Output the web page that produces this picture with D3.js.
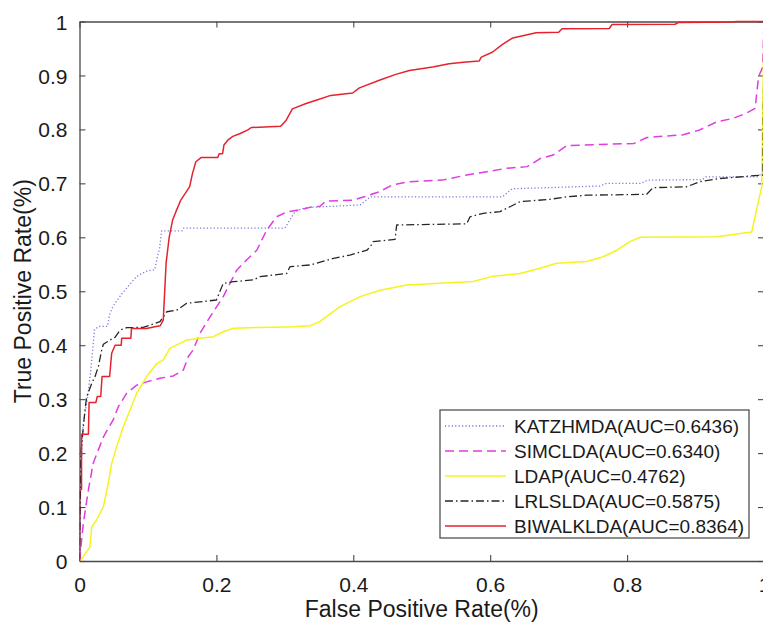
<!DOCTYPE html>
<html><head><meta charset="utf-8">
<script src="https://cdn.jsdelivr.net/npm/d3@7"></script>
<style>
html,body{margin:0;padding:0;background:#fff;}
svg{display:block;font-family:"Liberation Sans",Arial,sans-serif;}
</style></head>
<body><svg id="c" width="763" height="628"></svg>
<script>
// ---- data (FPR, TPR) ----
const xTicks = [0, 0.2, 0.4, 0.6, 0.8, 1];
const yTicks = [0, 0.1, 0.2, 0.3, 0.4, 0.5, 0.6, 0.7, 0.8, 0.9, 1];
const seriesNames = ["KATZHMDA(AUC=0.6436)", "SIMCLDA(AUC=0.6340)", "LDAP(AUC=0.4762)", "LRLSLDA(AUC=0.5875)", "BIWALKLDA(AUC=0.8364)"];

const katzhmda = [[0,0],[0.002,0.16],[0.005,0.25],[0.01,0.29],[0.012,0.305],[0.017,0.36],[0.022,0.43],[0.03,0.435],[0.041,0.435],[0.044,0.457],[0.049,0.472],[0.061,0.494],[0.083,0.527],[0.097,0.537],[0.11,0.54],[0.114,0.565],[0.117,0.58],[0.12,0.612],[0.15,0.612],[0.152,0.617],[0.30,0.617],[0.315,0.648],[0.33,0.655],[0.41,0.66],[0.425,0.675],[0.618,0.675],[0.632,0.69],[0.76,0.695],[0.77,0.70],[0.82,0.70],[0.83,0.706],[0.91,0.707],[0.915,0.712],[0.99,0.712],[0.999,0.72],[1,1]];

const simclda = [[0,0],[0.0056,0.07],[0.013,0.132],[0.020,0.181],[0.0275,0.206],[0.035,0.230],[0.042,0.246],[0.049,0.261],[0.0567,0.286],[0.069,0.311],[0.0836,0.326],[0.098,0.332],[0.1176,0.3387],[0.137,0.343],[0.1517,0.354],[0.159,0.379],[0.166,0.391],[0.176,0.422],[0.191,0.453],[0.21,0.49],[0.22,0.515],[0.2297,0.539],[0.244,0.558],[0.259,0.576],[0.2735,0.6135],[0.288,0.638],[0.3027,0.647],[0.322,0.651],[0.3416,0.657],[0.351,0.657],[0.36,0.667],[0.40,0.669],[0.416,0.675],[0.438,0.6845],[0.457,0.697],[0.48,0.703],[0.53,0.706],[0.566,0.7155],[0.595,0.7216],[0.624,0.728],[0.654,0.731],[0.673,0.746],[0.692,0.7525],[0.712,0.77],[0.81,0.774],[0.829,0.785],[0.882,0.790],[0.906,0.799],[0.931,0.814],[0.955,0.8205],[0.974,0.83],[0.987,0.839],[0.992,0.8977],[0.998,0.915],[1,1]];

const ldap = [[0,0],[0.0055,0.008],[0.0153,0.0265],[0.0178,0.0636],[0.025,0.076],[0.0348,0.1006],[0.042,0.144],[0.047,0.181],[0.0543,0.212],[0.064,0.249],[0.0738,0.28],[0.0836,0.311],[0.098,0.3416],[0.1128,0.366],[0.1224,0.3726],[0.132,0.394],[0.1468,0.4035],[0.1566,0.4096],[0.176,0.4128],[0.1955,0.4158],[0.21,0.425],[0.2247,0.4313],[0.2637,0.433],[0.312,0.4343],[0.337,0.436],[0.351,0.4436],[0.3806,0.4714],[0.41,0.49],[0.439,0.502],[0.478,0.5116],[0.5267,0.5147],[0.575,0.518],[0.6045,0.528],[0.6435,0.533],[0.6728,0.5425],[0.697,0.552],[0.741,0.555],[0.765,0.564],[0.785,0.576],[0.804,0.592],[0.819,0.600],[0.931,0.601],[0.982,0.610],[0.9967,0.694],[1,1]];

const lrlslda = [[0,0],[0.002,0.2],[0.008,0.28],[0.0105,0.3046],[0.0178,0.329],[0.0226,0.3416],[0.0275,0.36],[0.0324,0.391],[0.0348,0.4017],[0.0446,0.4096],[0.0519,0.4146],[0.0592,0.428],[0.069,0.4324],[0.0932,0.4332],[0.1176,0.4436],[0.1274,0.462],[0.142,0.465],[0.1566,0.4776],[0.2,0.4838],[0.21,0.5147],[0.2247,0.5177],[0.254,0.521],[0.2637,0.527],[0.3027,0.533],[0.3075,0.5455],[0.337,0.5487],[0.371,0.561],[0.395,0.567],[0.42,0.576],[0.426,0.585],[0.429,0.592],[0.461,0.596],[0.4634,0.6228],[0.5657,0.625],[0.5705,0.638],[0.59,0.6445],[0.6143,0.6475],[0.629,0.6567],[0.6435,0.666],[0.687,0.6704],[0.7117,0.675],[0.741,0.678],[0.8286,0.6797],[0.838,0.692],[0.887,0.6937],[0.9065,0.703],[0.9357,0.709],[0.9985,0.7155],[1,1]];

const biwalklda = [[0,0],[0,0.13],[0.003,0.133],[0.003,0.235],[0.013,0.235],[0.014,0.294],[0.024,0.294],[0.026,0.305],[0.031,0.305],[0.033,0.342],[0.044,0.342],[0.047,0.385],[0.052,0.40],[0.061,0.40],[0.0616,0.413],[0.075,0.413],[0.076,0.431],[0.098,0.431],[0.11,0.434],[0.118,0.436],[0.1224,0.447],[0.1265,0.552],[0.131,0.60],[0.136,0.632],[0.141,0.648],[0.148,0.669],[0.161,0.694],[0.165,0.718],[0.170,0.740],[0.178,0.748],[0.202,0.748],[0.204,0.755],[0.209,0.755],[0.211,0.771],[0.2166,0.78],[0.224,0.787],[0.234,0.792],[0.246,0.799],[0.251,0.8035],[0.294,0.806],[0.302,0.817],[0.311,0.838],[0.331,0.848],[0.348,0.855],[0.367,0.863],[0.399,0.8675],[0.409,0.877],[0.438,0.891],[0.462,0.902],[0.482,0.909],[0.516,0.9155],[0.540,0.9215],[0.5645,0.925],[0.584,0.927],[0.587,0.934],[0.603,0.943],[0.618,0.9575],[0.633,0.9695],[0.667,0.979],[0.70,0.98],[0.705,0.9865],[0.774,0.987],[0.778,0.9945],[0.87,0.995],[0.875,0.998],[0.954,0.999],[0.96,1],[1,1]];

const seriesData = [katzhmda, simclda, ldap, lrlslda, biwalklda];
const seriesColors = ["#7878d8", "#e03ce0", "#f4f41c", "#262626", "#e6222e"];
const seriesDash = ["1.2,2.2", "9,5", null, "8,3,1.5,3", null];
const seriesWidth = [1.3, 1.5, 1.5, 1.3, 1.5];

// ---- layout ----
const L = 79.5, R = 764, T = 21.5, B = 561;
const svg = d3.select("#c");
const x = d3.scaleLinear().domain([0, 1]).range([L, R]);
const y = d3.scaleLinear().domain([0, 1]).range([B, T]);
const axisColor = "#4a4a4a";

svg.append("defs").append("clipPath").attr("id", "clip")
  .append("rect").attr("x", L).attr("y", T - 2).attr("width", R - L).attr("height", B - T + 2);

// axes
function styleAxis(g) {
  g.selectAll("path.domain").attr("stroke", axisColor).attr("stroke-width", 1.3);
  g.selectAll(".tick line").attr("stroke", axisColor).attr("stroke-width", 1.1);
}
const gx = svg.append("g").attr("transform", `translate(0,${B})`)
  .call(d3.axisBottom(x).tickValues(xTicks).tickSize(-6).tickSizeOuter(0).tickPadding(16.5)
    .tickFormat(d => d === 1 ? "1" : d === 0 ? "0" : d3.format(".1f")(d)));
gx.call(styleAxis);
gx.selectAll("text").attr("font-size", 21).attr("fill", "#1a1a1a");

const gxt = svg.append("g").attr("transform", `translate(0,${T})`)
  .call(d3.axisTop(x).tickValues(xTicks).tickSize(-6).tickSizeOuter(0).tickFormat(""));
gxt.call(styleAxis);

const gy = svg.append("g").attr("transform", `translate(${L},0)`)
  .call(d3.axisLeft(y).tickValues(yTicks).tickSize(-6).tickSizeOuter(0).tickPadding(12)
    .tickFormat(d => d === 1 ? "1" : d === 0 ? "0" : d3.format(".1f")(d)));
gy.call(styleAxis);
gy.selectAll("text").attr("font-size", 21).attr("fill", "#1a1a1a").attr("dy", "0.36em");

const gyr = svg.append("g").attr("transform", `translate(${R},0)`)
  .call(d3.axisRight(y).tickValues(yTicks).tickSize(-6).tickSizeOuter(0).tickFormat(""));
gyr.call(styleAxis);

// axis titles
svg.append("text").attr("x", (L + R) / 2).attr("y", 617).attr("text-anchor", "middle")
  .attr("font-size", 23).attr("fill", "#1a1a1a").text("False Positive Rate(%)");
svg.append("text").attr("transform", `translate(31,${(T + B) / 2}) rotate(-90)`).attr("text-anchor", "middle")
  .attr("font-size", 23).attr("fill", "#1a1a1a").text("True Positive Rate(%)");

// lines
const line = d3.line().x(d => x(d[0])).y(d => y(d[1]));
const plot = svg.append("g").attr("clip-path", "url(#clip)");
seriesData.forEach((data, i) => {
  plot.append("path").datum(data)
    .attr("d", line)
    .attr("fill", "none")
    .attr("stroke", seriesColors[i])
    .attr("stroke-width", seriesWidth[i])
    .attr("stroke-linejoin", "round")
    .attr("stroke-dasharray", seriesDash[i]);
});

// legend
const lg = svg.append("g");
lg.append("rect").attr("x", 440).attr("y", 410).attr("width", 309).attr("height", 128)
  .attr("fill", "#fff").attr("stroke", "#444").attr("stroke-width", 1.2);
seriesNames.forEach((name, i) => {
  const cy = 426 + i * 25;
  lg.append("line").attr("x1", 445).attr("x2", 506).attr("y1", cy).attr("y2", cy)
    .attr("stroke", seriesColors[i]).attr("stroke-width", seriesWidth[i])
    .attr("stroke-dasharray", seriesDash[i]);
  lg.append("text").attr("x", 514).attr("y", cy + 7).attr("font-size", 19)
    .attr("fill", "#1a1a1a").text(name);
});
</script></body></html>
